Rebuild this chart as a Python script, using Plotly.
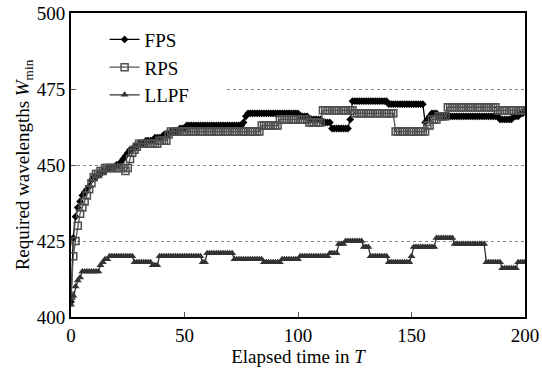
import plotly.graph_objects as go

time = list(range(0, 201))

fps = [
    405, 426, 433, 436, 438, 440, 441, 442, 443, 445,
    446, 446, 447, 447, 448, 448, 449, 449, 449, 449,
    450, 450, 451, 452, 453, 454, 455, 455, 456, 456,
    457, 457, 457, 458, 458, 458, 458, 459, 459, 459,
    459, 460, 460, 460, 461, 461, 461, 461, 462, 462,
    462, 463, 463, 463, 463, 463, 463, 463, 463, 463,
    463, 463, 463, 463, 463, 463, 463, 463, 463, 463,
    463, 463, 463, 463, 463, 463, 464, 466, 467, 467,
    467, 467, 467, 467, 467, 467, 467, 467, 467, 467,
    467, 467, 467, 467, 467, 467, 467, 467, 467, 467,
    467, 466, 466, 466, 466, 465, 465, 465, 465, 465,
    465, 464, 464, 464, 464, 462, 462, 462, 462, 462,
    462, 462, 462, 465, 471, 471, 471, 471, 471, 471,
    471, 471, 471, 471, 471, 471, 471, 471, 471, 471,
    470, 470, 470, 470, 470, 470, 470, 470, 470, 470,
    470, 470, 470, 470, 470, 470, 464, 465, 466, 467,
    467, 467, 466, 466, 466, 466, 466, 466, 466, 466,
    466, 466, 466, 466, 466, 466, 466, 466, 466, 466,
    466, 466, 466, 466, 466, 466, 466, 466, 466, 465,
    465, 465, 465, 465, 465, 466, 466, 466, 467, 467,
    468,
]

rps = [
    407, 420, 425, 430, 434, 436, 438, 440, 442, 444,
    446, 447, 447, 448, 448, 449, 449, 449, 449, 449,
    449, 449, 449, 449, 448, 449, 452, 454, 455, 456,
    457, 457, 457, 457, 457, 457, 457, 457, 457, 458,
    458, 458, 458, 460, 461, 461, 461, 461, 461, 461,
    461, 461, 461, 461, 461, 461, 461, 461, 461, 461,
    461, 461, 461, 461, 461, 461, 461, 461, 461, 461,
    461, 461, 461, 461, 461, 461, 461, 461, 461, 461,
    461, 461, 461, 461, 463, 463, 463, 463, 463, 463,
    463, 463, 465, 465, 465, 465, 465, 465, 465, 465,
    465, 465, 465, 465, 465, 464, 464, 464, 464, 464,
    464, 468, 468, 468, 468, 468, 468, 468, 468, 468,
    468, 468, 468, 468, 468, 467, 467, 467, 467, 467,
    467, 467, 467, 467, 467, 467, 467, 467, 467, 467,
    467, 467, 467, 461, 461, 461, 461, 461, 461, 461,
    461, 461, 461, 461, 461, 461, 461, 463, 463, 465,
    465, 465, 466, 466, 466, 466, 469, 469, 469, 469,
    469, 469, 469, 469, 469, 469, 469, 469, 469, 469,
    469, 469, 469, 469, 469, 469, 469, 469, 468, 468,
    468, 468, 468, 468, 468, 468, 468, 468, 468, 468,
    468,
]

llpf = [
    404, 407, 410, 412, 413, 415, 415, 415, 415, 415,
    415, 415, 415, 417, 418, 419, 419, 420, 420, 420,
    420, 420, 420, 420, 420, 420, 420, 420, 418, 418,
    418, 418, 418, 418, 418, 418, 417, 417, 417, 420,
    420, 420, 420, 420, 420, 420, 420, 420, 420, 420,
    420, 420, 420, 420, 420, 420, 420, 420, 418, 418,
    421, 421, 421, 421, 421, 421, 421, 421, 421, 421,
    421, 421, 419, 419, 419, 419, 419, 419, 419, 419,
    419, 419, 419, 419, 419, 418, 418, 418, 418, 418,
    418, 418, 418, 419, 419, 419, 419, 419, 419, 419,
    419, 420, 420, 420, 420, 420, 420, 420, 420, 420,
    420, 420, 420, 420, 421, 421, 421, 421, 424, 424,
    424, 425, 425, 425, 425, 425, 425, 425, 425, 423,
    423, 423, 420, 420, 420, 420, 420, 420, 420, 420,
    418, 418, 418, 418, 418, 418, 418, 418, 418, 418,
    420, 423, 423, 423, 423, 423, 423, 423, 423, 423,
    423, 426, 426, 426, 426, 426, 426, 426, 426, 424,
    424, 424, 424, 424, 424, 424, 424, 424, 424, 424,
    424, 424, 424, 418, 418, 418, 418, 418, 418, 418,
    416, 416, 416, 416, 416, 416, 416, 418, 418, 418,
    418,
]

x_ticks = [0, 50, 100, 150, 200]
y_ticks = [400, 425, 450, 475, 500]

FONT = "Liberation Serif"

fig = go.Figure()
fig.add_trace(go.Scatter(
    x=time, y=fps, name="FPS", mode="lines+markers",
    line=dict(color="#000000", width=1.3),
    marker=dict(symbol="diamond", size=6, color="#000000"),
))
fig.add_trace(go.Scatter(
    x=time, y=rps, name="RPS", mode="lines+markers",
    line=dict(color="#555555", width=1.3),
    marker=dict(symbol="square-open", size=7, color="#505050", line=dict(width=1.5)),
))
fig.add_trace(go.Scatter(
    x=time, y=llpf, name="LLPF", mode="lines+markers",
    line=dict(color="#333333", width=1.3),
    marker=dict(symbol="triangle-up", size=7, color="#333333"),
))

# white patch hiding part of the 475 gridline behind the legend area
fig.add_shape(type="rect", xref="x", yref="y", x0=0.5, x1=68, y0=474, y1=476,
              fillcolor="white", line=dict(width=0), layer="between")

fig.update_layout(
    width=542, height=375,
    margin=dict(l=71, r=17, t=13, b=58, autoexpand=False),
    paper_bgcolor="white", plot_bgcolor="white",
    font=dict(family=FONT, size=19, color="#000"),
    showlegend=True,
    legend=dict(x=0.074, y=0.975, xanchor="left", yanchor="top",
                bgcolor="rgba(255,255,255,0)", font=dict(size=19, family=FONT),
                tracegroupgap=0, itemwidth=30),
    xaxis=dict(
        range=[0, 200], tickvals=x_ticks, ticks="inside", ticklen=5,
        tickcolor="#555", showline=True, linecolor="#000", linewidth=2,
        mirror=True, showgrid=False, zeroline=False, automargin=False,
        ticklabeloverflow="allow",
        title=dict(text="Elapsed time in <i>T</i>", standoff=2, font=dict(size=19, family=FONT)),
        tickfont=dict(size=19, family=FONT),
    ),
    yaxis=dict(
        range=[400, 500], tickvals=y_ticks, ticks="inside", ticklen=5,
        tickcolor="#555", showline=True, linecolor="#000", linewidth=2,
        mirror=True, showgrid=True, gridcolor="#888", griddash="dot", gridwidth=1,
        zeroline=False, automargin=False, ticklabeloverflow="allow",
        title=dict(text="Required wavelengths <i>W</i><sub>min</sub>", standoff=2, font=dict(size=19, family=FONT)),
        tickfont=dict(size=19, family=FONT),
    ),
)

fig.write_html(
    "out.html",
    config={"displayModeBar": False},
    post_script="document.body.style.margin='0';document.body.style.overflow='hidden';",
)
